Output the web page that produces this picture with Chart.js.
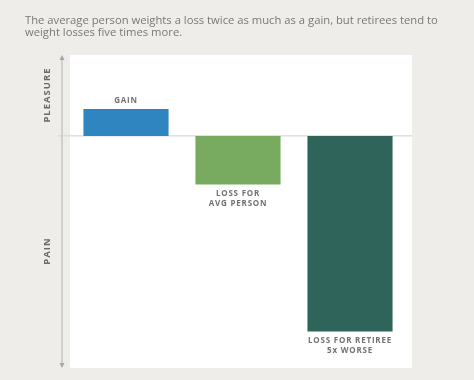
<!DOCTYPE html>
<html><head><meta charset="utf-8">
<script src="https://cdn.jsdelivr.net/npm/chart.js@4/dist/chart.umd.min.js"></script>
<style>html,body{margin:0;padding:0;background:#efedea;}#wrap{width:474px;height:380px;position:relative;}</style>
</head><body><div id="wrap"><canvas id="c" width="474" height="380"></canvas></div>
<script>
const categories = ["GAIN", "LOSS FOR AVG PERSON", "LOSS FOR RETIREE 5x WORSE"];
const barLabels = [["GAIN"], ["LOSS FOR", "AVG PERSON"], ["LOSS FOR RETIREE", "5x WORSE"]];
const values = [1, -1.8, -7.25];
const barColors = ["#2f85bf", "#78ab5f", "#2e6459"];
const titleLines = ["The average person weights a loss twice as much as a gain, but retirees tend to", "weight losses five times more."];
const axisLabels = ["PLEASURE", "PAIN"];

const deco = {
  id: 'deco',
  beforeDraw(chart) {
    const ctx = chart.ctx, a = chart.chartArea;
    ctx.save();
    ctx.fillStyle = '#efedea';
    ctx.fillRect(0, 0, chart.width, chart.height);
    ctx.fillStyle = '#ffffff';
    ctx.fillRect(a.left, a.top, 412 - a.left, a.bottom - a.top);
    // title, fitted to reference width
    ctx.fillStyle = '#7a7876';
    let fs = 13;
    ctx.font = fs + 'px "Open Sans"';
    const w = ctx.measureText(titleLines[0]).width;
    fs = fs * 413 / w;
    ctx.font = fs + 'px "Open Sans"';
    ctx.textBaseline = 'alphabetic';
    ctx.textAlign = 'left';
    titleLines.forEach((l, i) => ctx.fillText(l, 25, 23.5 + i * 12.5));
    // zero line
    const y0 = chart.scales.y.getPixelForValue(0);
    ctx.strokeStyle = '#d9d7d3';
    ctx.lineWidth = 1.2;
    ctx.beginPath(); ctx.moveTo(58, y0); ctx.lineTo(412, y0); ctx.stroke();
    // vertical axis arrow
    const ax = 62;
    ctx.strokeStyle = '#c9c6c2';
    ctx.lineWidth = 1.5;
    ctx.beginPath(); ctx.moveTo(ax, a.top + 2); ctx.lineTo(ax, a.bottom - 2); ctx.stroke();
    ctx.fillStyle = '#a9a6a2';
    ctx.beginPath(); ctx.moveTo(ax, a.top); ctx.lineTo(ax - 2.5, a.top + 5); ctx.lineTo(ax + 2.5, a.top + 5); ctx.fill();
    ctx.beginPath(); ctx.moveTo(ax, a.bottom); ctx.lineTo(ax - 2.5, a.bottom - 5); ctx.lineTo(ax + 2.5, a.bottom - 5); ctx.fill();
    // rotated axis labels
    ctx.fillStyle = '#6b6a69';
    ctx.font = 'bold 9.5px "Open Sans"';
    ctx.textAlign = 'center';
    ctx.textBaseline = 'middle';
    [[axisLabels[0], 95], [axisLabels[1], 251]].forEach(([t, y]) => {
      ctx.save(); ctx.translate(47, y); ctx.rotate(-Math.PI / 2);
      if (ctx.letterSpacing !== undefined) ctx.letterSpacing = '1px';
      ctx.fillText(t, 0, 0); ctx.restore();
    });
    ctx.restore();
  },
  afterDatasetsDraw(chart) {
    const ctx = chart.ctx;
    const meta = chart.getDatasetMeta(0);
    ctx.save();
    ctx.fillStyle = '#727072';
    ctx.font = 'bold 8px "Open Sans"';
    ctx.textAlign = 'center';
    ctx.textBaseline = 'middle';
    if (ctx.letterSpacing !== undefined) ctx.letterSpacing = '0.8px';
    meta.data.forEach((bar, i) => {
      const lines = barLabels[i];
      const v = values[i];
      lines.forEach((l, j) => {
        let y;
        if (v >= 0) y = bar.y - 8 - (lines.length - 1 - j) * 9.5;
        else y = bar.y + 9.5 + j * 9.5;
        ctx.fillText(l, bar.x, y);
      });
    });
    ctx.restore();
  }
};

new Chart(document.getElementById('c'), {
  type: 'bar',
  data: {
    labels: categories,
    datasets: [{ data: values, backgroundColor: barColors, borderWidth: 0, barPercentage: 0.76, categoryPercentage: 1 }]
  },
  options: {
    responsive: false,
    animation: false,
    events: [],
    layout: { padding: { left: 70, right: 68, top: 55, bottom: 12 } },
    plugins: { legend: { display: false }, tooltip: { enabled: false }, title: { display: false } },
    scales: {
      x: { display: false },
      y: { display: false, min: -8.6, max: 3 }
    }
  },
  plugins: [deco]
});
</script></body></html>
